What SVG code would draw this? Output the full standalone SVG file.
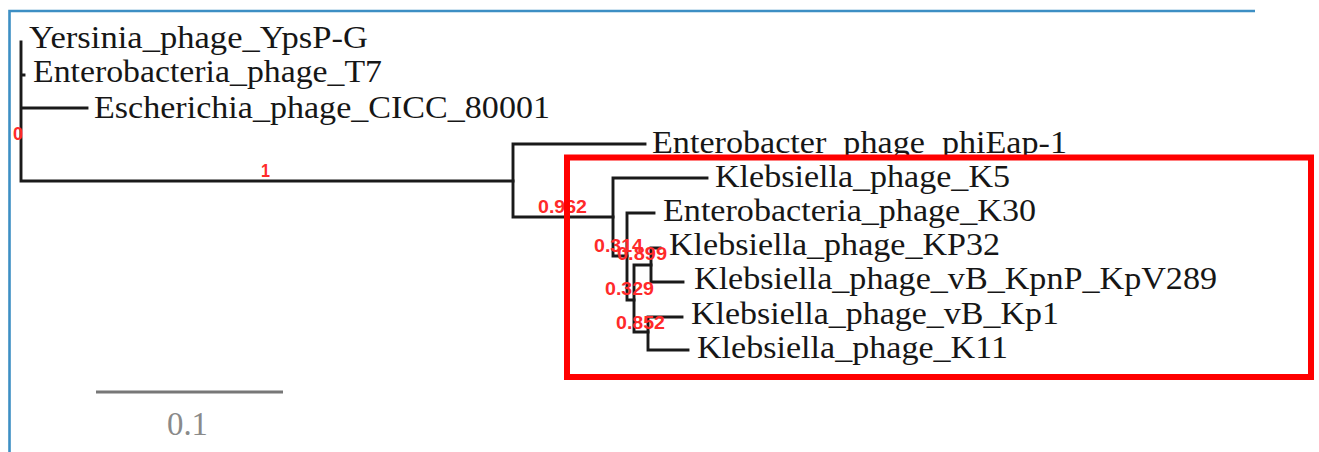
<svg xmlns="http://www.w3.org/2000/svg" width="1319" height="452" viewBox="0 0 1319 452">
  <style>
    .leaf { font-family: "Times New Roman", "Liberation Serif", Tinos, serif; font-size: 32px; fill: #161616; }
    .sup { font-family: "Liberation Sans", Arial, sans-serif; font-size: 18px; font-weight: bold; fill: #ff2a2a; }
    .br { fill: none; stroke: #1a1a1a; stroke-width: 2.9; stroke-linecap: square; }
    .scale { font-family: "Times New Roman", "Liberation Serif", Tinos, serif; font-size: 33px; fill: #8a8a8a; }
  </style>
  <rect width="1319" height="452" fill="#ffffff"/>
  <path d="M9.5,452 V11 H1255" fill="none" stroke="#3d8fc4" stroke-width="2.6"/>

  <g id="connectors">
    <path class="br" d="M21,42 V181 M21,75 H24 M21,108 H87 M21,181 H513"/>
    <path class="br" d="M513,144 V217 M513,144 H645 M513,217 H613"/>
    <path class="br" d="M613,178 V256 M613,178 H707 M613,256 H627"/>
    <path class="br" d="M627,213 V300 M627,213 H654 M627,300 H634"/>
    <path class="br" d="M634,265 V332 M634,265 H651 M634,332 H648"/>
    <path class="br" d="M651,248 V282 M651,248 H660 M651,282 H683"/>
    <path class="br" d="M648,317 V350 M648,317 H682 M648,350 H688"/>
  </g>

  <g id="support-values">
    <text class="sup" x="13" y="140" textLength="10" lengthAdjust="spacingAndGlyphs">0</text>
    <text class="sup" x="261" y="177" textLength="9" lengthAdjust="spacingAndGlyphs">1</text>
    <text class="sup" x="538" y="213" textLength="49" lengthAdjust="spacingAndGlyphs">0.962</text>
    <text class="sup" x="594" y="252" textLength="49" lengthAdjust="spacingAndGlyphs">0.314</text>
    <text class="sup" x="617" y="260" textLength="50" lengthAdjust="spacingAndGlyphs">0.899</text>
    <text class="sup" x="605" y="295" textLength="49" lengthAdjust="spacingAndGlyphs">0.329</text>
    <text class="sup" x="616" y="329" textLength="49" lengthAdjust="spacingAndGlyphs">0.852</text>
  </g>

  <g id="leaf-yersinia"><text class="leaf" x="29" y="48" textLength="339" lengthAdjust="spacingAndGlyphs">Yersinia_phage_YpsP-G</text></g>
  <g id="leaf-t7"><text class="leaf" x="33" y="82" textLength="349" lengthAdjust="spacingAndGlyphs">Enterobacteria_phage_T7</text></g>
  <g id="leaf-cicc"><text class="leaf" x="94" y="118" textLength="456" lengthAdjust="spacingAndGlyphs">Escherichia_phage_CICC_80001</text></g>
  <g id="leaf-phieap"><text class="leaf" x="652" y="153" textLength="415" lengthAdjust="spacingAndGlyphs">Enterobacter_phage_phiEap-1</text></g>
  <g id="leaf-k5"><text class="leaf" x="715" y="187" textLength="295" lengthAdjust="spacingAndGlyphs">Klebsiella_phage_K5</text></g>
  <g id="leaf-k30"><text class="leaf" x="663" y="221" textLength="373" lengthAdjust="spacingAndGlyphs">Enterobacteria_phage_K30</text></g>
  <g id="leaf-kp32"><text class="leaf" x="669" y="255" textLength="331" lengthAdjust="spacingAndGlyphs">Klebsiella_phage_KP32</text></g>
  <g id="leaf-kpv289"><text class="leaf" x="694" y="289" textLength="523" lengthAdjust="spacingAndGlyphs">Klebsiella_phage_vB_KpnP_KpV289</text></g>
  <g id="leaf-kp1"><text class="leaf" x="691" y="324" textLength="368" lengthAdjust="spacingAndGlyphs">Klebsiella_phage_vB_Kp1</text></g>
  <g id="leaf-k11"><text class="leaf" x="697" y="358" textLength="311" lengthAdjust="spacingAndGlyphs">Klebsiella_phage_K11</text></g>

  <g id="highlight-box">
    <rect x="567" y="157.5" width="744" height="219.5" fill="none" stroke="#ff0000" stroke-width="6"/>
  </g>

  <g id="scale-bar">
    <line x1="96" y1="392" x2="283" y2="392" stroke="#777777" stroke-width="3"/>
    <text class="scale" x="167" y="435" textLength="41" lengthAdjust="spacingAndGlyphs">0.1</text>
  </g>
</svg>
